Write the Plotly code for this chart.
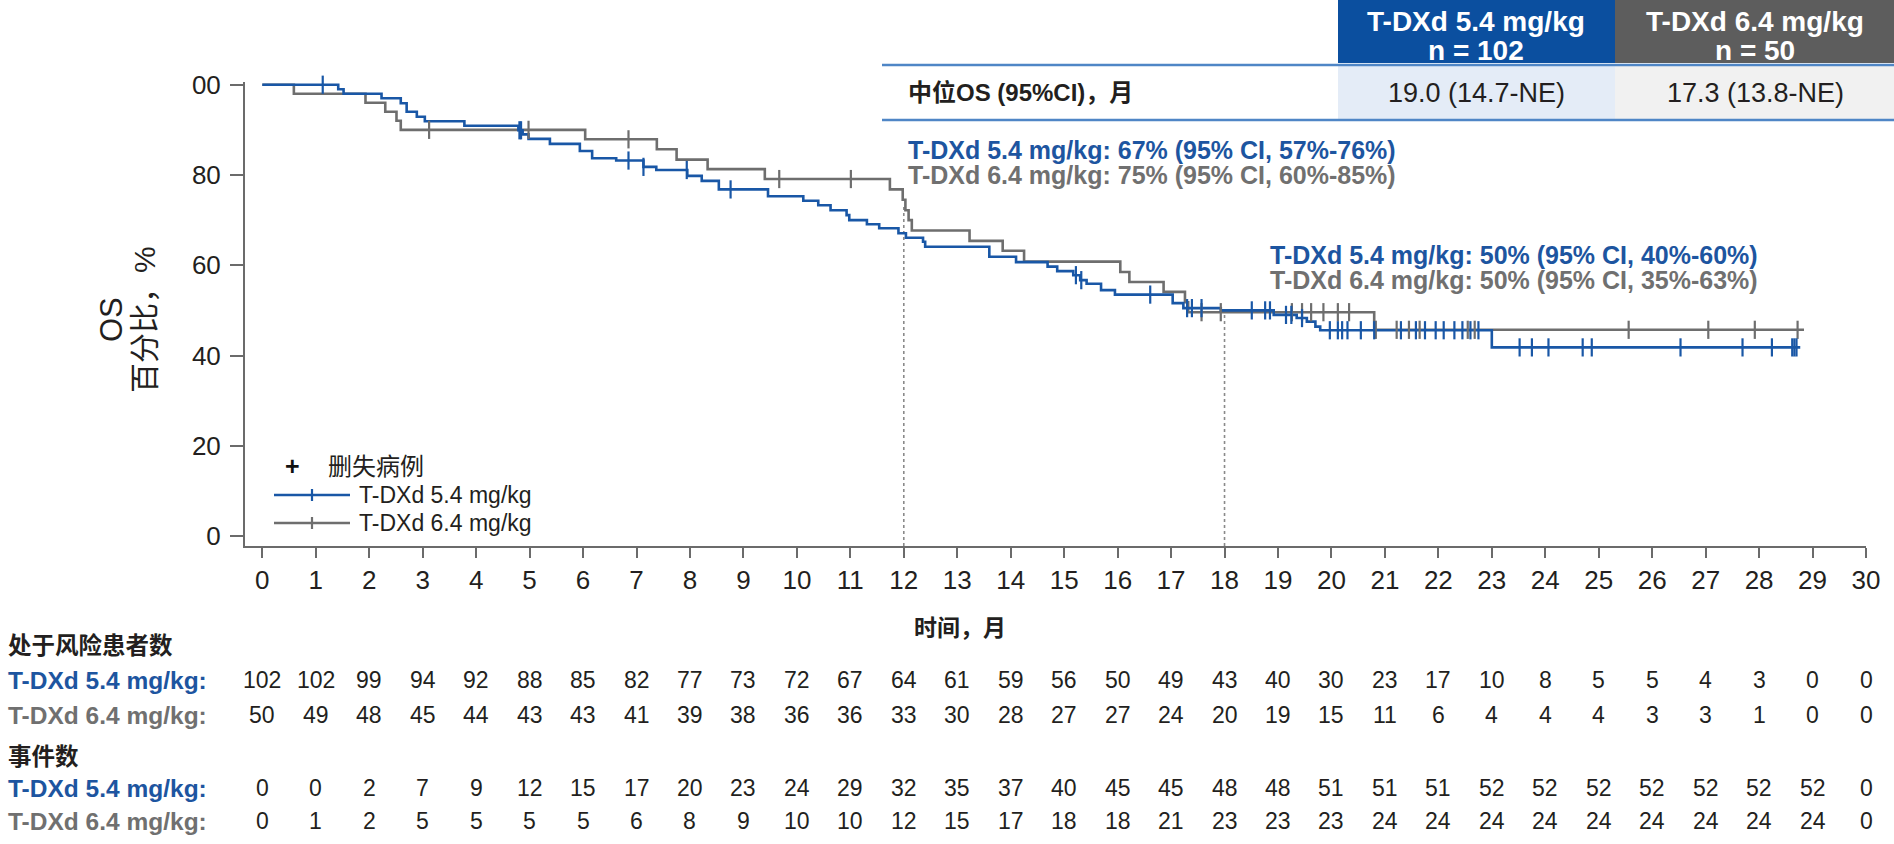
import numpy as np
import plotly.graph_objects as go

# ---------------- data ----------------
months = list(range(31))

# KM step data (time of drop, survival % after drop)
t54 = [0, 1.42, 1.52, 2.23, 2.59, 2.70, 2.89, 3.04, 3.78, 4.79, 4.87, 4.98, 5.38, 5.94, 6.17, 6.62,
       7.13, 7.37, 7.95, 8.22, 8.54, 9.46, 10.12, 10.40, 10.63, 10.93, 10.98, 11.31, 11.54, 11.90,
       12.04, 12.36, 12.40, 13.60, 14.10, 14.69, 14.87, 15.17, 15.30, 15.42, 15.69, 15.95, 17.03,
       17.23, 17.93, 18.92, 19.35, 19.54, 19.70, 19.79, 23.00]
s54 = [100, 99.0, 98.0, 97.0, 95.9, 94.0, 92.9, 91.9, 90.9, 89.9, 89.0, 88.0, 86.9, 85.3, 83.7, 83.2,
       81.8, 81.1, 79.8, 78.7, 76.8, 75.3, 74.3, 73.3, 72.2, 71.1, 70.0, 69.1, 68.2, 67.1,
       66.1, 65.2, 64.1, 61.9, 60.7, 59.7, 58.7, 57.8, 56.7, 55.9, 54.5, 53.5, 51.6,
       50.5, 50.0, 49.0, 48.3, 47.5, 46.4, 45.6, 41.8]
end54 = 28.77

t64 = [0, 0.59, 1.93, 2.30, 2.51, 2.59, 6.04, 7.38, 7.75, 8.33, 9.40, 11.74, 11.98, 12.03, 12.09,
       12.15, 13.23, 13.85, 14.25, 16.05, 16.22, 16.86, 17.26, 17.32, 20.80]
s64 = [100, 98, 96, 94, 92, 90, 87.9, 85.7, 83.4, 81.3, 79.1, 76.8, 74.5, 72.2, 70.0,
       67.7, 65.4, 63.2, 60.8, 58.5, 56.3, 54.1, 51.8, 49.6, 45.7]
end64 = 28.84

# censoring times
c54 = [1.13, 4.81, 4.84, 6.85, 7.13, 7.94, 8.76, 15.22, 15.32, 16.61, 17.30, 17.39, 17.57, 18.51,
       18.76, 18.85, 19.15, 19.25, 19.45, 19.97, 20.12, 20.20, 20.30, 20.55, 20.80, 21.30, 21.58,
       21.75, 21.95, 22.10, 22.30, 22.45, 22.60, 22.75, 23.52, 23.75, 24.06, 24.70, 24.87, 26.53,
       27.69, 28.24, 28.62, 28.66, 28.70]
c64 = [3.12, 4.98, 6.85, 9.67, 11.01, 17.57, 17.93, 19.26, 19.45, 19.62, 19.85, 20.12, 20.33,
       20.83, 21.22, 21.45, 21.65, 22.55, 22.68, 25.56, 27.05, 27.92, 28.72]

# landmark reference lines
landmark_t = [12, 18]
landmark_v = [73, 50]

# number at risk / events
at_risk_54 = [102, 102, 99, 94, 92, 88, 85, 82, 77, 73, 72, 67, 64, 61, 59, 56, 50, 49, 43, 40, 30,
              23, 17, 10, 8, 5, 5, 4, 3, 0, 0]
at_risk_64 = [50, 49, 48, 45, 44, 43, 43, 41, 39, 38, 36, 36, 33, 30, 28, 27, 27, 24, 20, 19, 15,
              11, 6, 4, 4, 4, 3, 3, 1, 0, 0]
events_54 = [0, 0, 2, 7, 9, 12, 15, 17, 20, 23, 24, 29, 32, 35, 37, 40, 45, 45, 48, 48, 51, 51, 51,
             52, 52, 52, 52, 52, 52, 52, 0]
events_64 = [0, 1, 2, 5, 5, 5, 5, 6, 8, 9, 10, 10, 12, 15, 17, 18, 18, 21, 23, 23, 23, 24, 24, 24,
             24, 24, 24, 24, 24, 24, 0]

y_ticks = [0, 20, 40, 60, 80, 100]
y_ticktext = ["0", "20", "40", "60", "80", "00"]

label54 = "T-DXd 5.4 mg/kg"
label64 = "T-DXd 6.4 mg/kg"

# ---------------- style ----------------
W, H = 1894, 844
L, R, T, B = 245, 1866, 82, 546   # plot area in pixels
BLUE = "#1957A6"
GRAY = "#6E6E6E"
TBLUE = "#1D55A0"
TGRAY = "#707070"
AX = "#6B6B6B"
TXT = "#231F20"
FONT = "Liberation Sans, Arial, Noto Sans CJK SC, sans-serif"


def px2x(px):
    return (px - L) / (R - L)


def py2y(py):
    return (B - py) / (B - T)


def surv_at(t, s, cs):
    idx = np.searchsorted(np.array(t), np.array(cs), side="right") - 1
    return [s[i] for i in idx]


fig = go.Figure()

for t, s, end, col in [(t64, s64, end64, GRAY), (t54, s54, end54, BLUE)]:
    fig.add_trace(go.Scatter(x=list(t) + [end], y=list(s) + [s[-1]], mode="lines",
                             line=dict(color=col, width=2.6, shape="hv"),
                             hoverinfo="skip", showlegend=False))

for t, s, cs, col in [(t64, s64, c64, GRAY), (t54, s54, c54, BLUE)]:
    fig.add_trace(go.Scatter(x=cs, y=surv_at(t, s, cs), mode="markers",
                             marker=dict(symbol="line-ns", size=13,
                                         line=dict(color=col, width=2.2)),
                             cliponaxis=False, hoverinfo="skip", showlegend=False))

shapes = []
# landmark dotted lines
for lt, lv in zip(landmark_t, landmark_v):
    shapes.append(dict(type="line", xref="x", yref="y", x0=lt, x1=lt, y0=-2.2, y1=lv,
                       line=dict(color="#8A8A8A", width=1.6, dash="dot"), layer="below"))

# top-right table
shapes += [
    dict(type="rect", xref="paper", yref="paper", x0=px2x(1338), x1=px2x(1615),
         y0=py2y(63), y1=py2y(-2), fillcolor="#0B4F9F", line=dict(width=0)),
    dict(type="rect", xref="paper", yref="paper", x0=px2x(1615), x1=px2x(1898),
         y0=py2y(63), y1=py2y(-2), fillcolor="#5D5D5D", line=dict(width=0)),
    dict(type="rect", xref="paper", yref="paper", x0=px2x(1338), x1=px2x(1615),
         y0=py2y(119), y1=py2y(66), fillcolor="#E4ECF7", line=dict(width=0)),
    dict(type="rect", xref="paper", yref="paper", x0=px2x(1615), x1=px2x(1898),
         y0=py2y(119), y1=py2y(66), fillcolor="#F1F1F1", line=dict(width=0)),
    dict(type="line", xref="paper", yref="paper", x0=px2x(882), x1=px2x(1898),
         y0=py2y(65), y1=py2y(65), line=dict(color="#4F86C6", width=2.5)),
    dict(type="line", xref="paper", yref="paper", x0=px2x(882), x1=px2x(1898),
         y0=py2y(120), y1=py2y(120), line=dict(color="#4F86C6", width=2.5)),
]

# legend drawing
for ly, col in [(495, BLUE), (523, GRAY)]:
    shapes.append(dict(type="line", xref="paper", yref="paper", x0=px2x(274), x1=px2x(350),
                       y0=py2y(ly), y1=py2y(ly), line=dict(color=col, width=2.6)))
    shapes.append(dict(type="line", xref="paper", yref="paper", x0=px2x(312), x1=px2x(312),
                       y0=py2y(ly - 6), y1=py2y(ly + 6), line=dict(color=col, width=2.2)))

ann = []


def add_text(text, px, py, size=22, color=TXT, xanchor="left", bold=False, **kw):
    ann.append(dict(text=("<b>%s</b>" % text) if bold else text, x=px2x(px), y=py2y(py),
                    xref="paper", yref="paper", xanchor=xanchor, yanchor="middle",
                    showarrow=False, font=dict(family=FONT, size=size, color=color), **kw))


# legend texts
add_text("<b>+</b>", 292, 466, size=25, color="#111111", xanchor="center")
add_text("删失病例", 326, 466, size=24)
add_text(label54, 357, 495, size=23)
add_text(label64, 357, 523, size=23)

# table texts
add_text(label54, 1476, 21, size=28, color="white", xanchor="center", bold=True)
add_text("n = 102", 1476, 50, size=28, color="white", xanchor="center", bold=True)
add_text(label64, 1755, 21, size=28, color="white", xanchor="center", bold=True)
add_text("n = 50", 1755, 50, size=28, color="white", xanchor="center", bold=True)
add_text("中位OS (95%CI)，月", 906, 93, size=24, bold=True)
add_text("19.0 (14.7-NE)", 1476, 93, size=27, xanchor="center")
add_text("17.3 (13.8-NE)", 1755, 93, size=27, xanchor="center")

# landmark texts
add_text(label54 + ": 67% (95% CI, 57%-76%)", 906, 150, size=25, color=TBLUE, bold=True)
add_text(label64 + ": 75% (95% CI, 60%-85%)", 906, 175, size=25, color=TGRAY, bold=True)
add_text(label54 + ": 50% (95% CI, 40%-60%)", 1268, 255, size=25, color=TBLUE, bold=True)
add_text(label64 + ": 50% (95% CI, 35%-63%)", 1268, 280, size=25, color=TGRAY, bold=True)

# axis titles
add_text("OS", 111, 320, size=31, xanchor="center", textangle=-90)
add_text("百分比，%", 144, 320, size=30, xanchor="center", textangle=-90)
add_text("时间，月", 960, 628, size=23, xanchor="center", bold=True)

# risk table
add_text("处于风险患者数", 6, 646, size=23.5, bold=True)
add_text(label54 + ":", 6, 680, size=24.5, color=TBLUE, bold=True)
add_text(label64 + ":", 6, 715, size=24.5, color=TGRAY, bold=True)
add_text("事件数", 6, 757, size=23.5, bold=True)
add_text(label54 + ":", 6, 788, size=24.5, color=TBLUE, bold=True)
add_text(label64 + ":", 6, 821, size=24.5, color=TGRAY, bold=True)

for row, py in [(at_risk_54, 680), (at_risk_64, 715), (events_54, 788), (events_64, 821)]:
    for m, v in zip(months, row):
        ann.append(dict(text=str(v), x=m, y=py2y(py), xref="x", yref="paper",
                        xanchor="center", yanchor="middle", showarrow=False,
                        font=dict(family=FONT, size=23, color=TXT)))

fig.update_layout(
    width=W, height=H,
    margin=dict(l=L, r=W - R, t=T, b=H - B, pad=0),
    paper_bgcolor="white", plot_bgcolor="white",
    showlegend=False,
    shapes=shapes, annotations=ann,
    font=dict(family=FONT, color=TXT),
    xaxis=dict(range=[-0.324, 30], tickvals=months, ticks="outside", ticklen=10, tickwidth=2,
               tickcolor=AX, showline=True, linecolor=AX, linewidth=2, showgrid=False,
               zeroline=False, tickfont=dict(size=26, color=TXT, family=FONT)),
    yaxis=dict(range=[-2.2, 100.6], tickvals=y_ticks, ticktext=y_ticktext, ticks="outside",
               ticklen=13, tickwidth=2, tickcolor=AX, showline=True, linecolor=AX, linewidth=2,
               showgrid=False, zeroline=False, ticklabelstandoff=4,
               tickfont=dict(size=26, color=TXT, family=FONT)),
)

fig.write_html("out.html")
